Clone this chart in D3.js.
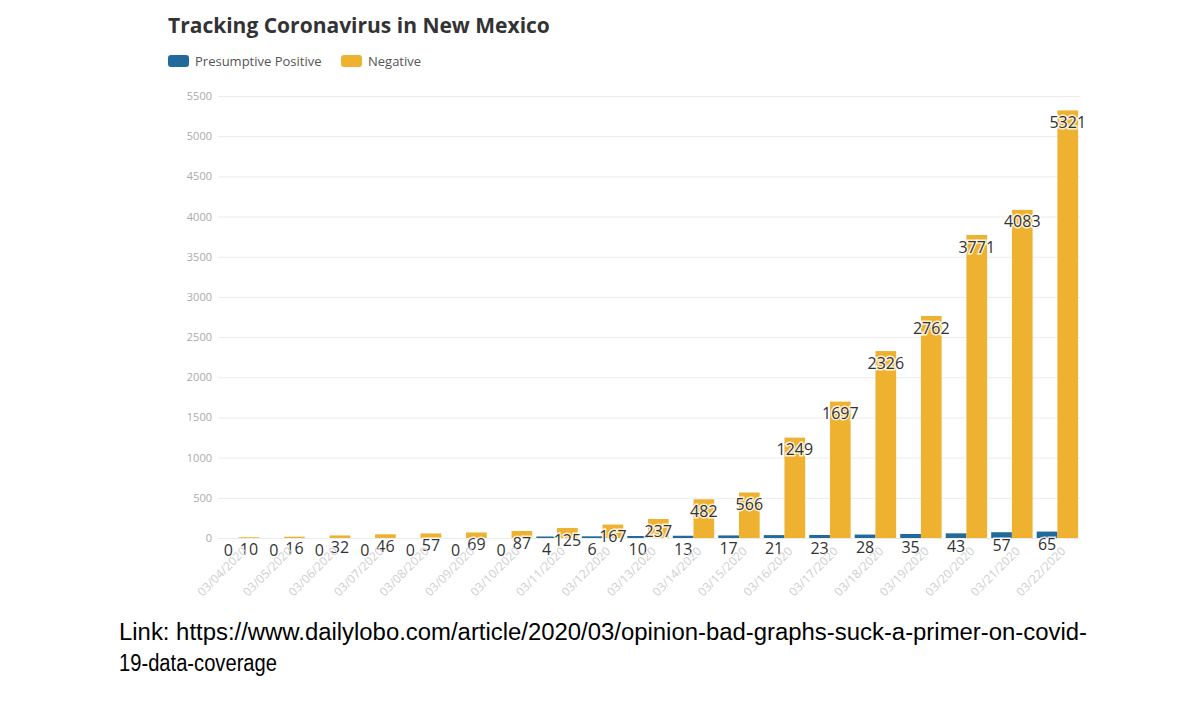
<!DOCTYPE html>
<html><head><meta charset="utf-8">
<script src="https://cdn.jsdelivr.net/npm/d3@7"></script>
<style>body{margin:0;background:#fff;} svg{display:block;}</style>
</head><body>
<svg id="c" width="1200" height="701"></svg>
<script>
const dates = ["03/04/2020","03/05/2020","03/06/2020","03/07/2020","03/08/2020","03/09/2020","03/10/2020","03/11/2020","03/12/2020","03/13/2020","03/14/2020","03/15/2020","03/16/2020","03/17/2020","03/18/2020","03/19/2020","03/20/2020","03/21/2020","03/22/2020"];
const positive = [0,0,0,0,0,0,0,4,6,10,13,17,21,23,28,35,43,57,65];
const negative = [10,16,32,46,57,69,87,125,167,237,482,566,1249,1697,2326,2762,3771,4083,5321];
const seriesNames = ["Presumptive Positive","Negative"];
const seriesColors = ["#22699c","#efb230"];
const yTicks = [0,500,1000,1500,2000,2500,3000,3500,4000,4500,5000,5500];

const svg = d3.select("#c");
const x0 = d3.scaleBand().domain(dates).range([217,1079]).paddingInner(0.09).paddingOuter(0.02);
const x1 = d3.scaleBand().domain([0,1]).range([0,x0.bandwidth()]);
const y = d3.scaleLinear().domain([0,5500]).range([538,96]);

// title
svg.append("text").attr("x",168).attr("y",33).text("Tracking Coronavirus in New Mexico")
  .attr("font-family","Open Sans").attr("font-weight","bold").attr("font-size",21).attr("fill","#333");

// legend
const legX = [168,341];
seriesNames.forEach((n,i)=>{
  svg.append("rect").attr("x",legX[i]).attr("y",55).attr("width",21).attr("height",12).attr("rx",3).attr("fill",seriesColors[i]);
  svg.append("text").attr("x",legX[i]+27).attr("y",61).attr("dy","0.35em").text(n)
    .attr("font-family","Open Sans").attr("font-size",13).attr("fill","#555");
});

// grid + y axis
const yAxis = d3.axisLeft(y).tickValues(yTicks).tickFormat(d3.format("d")).tickSize(-(1080-218)).tickPadding(6);
const ga = svg.append("g").attr("transform","translate(218,0)").call(yAxis);
ga.select(".domain").remove();
ga.selectAll(".tick line").attr("stroke","#ececec");
ga.selectAll(".tick text").attr("font-family","Open Sans").attr("font-size",11).attr("fill","#aaa");

// bars
const groups = svg.append("g").selectAll("g").data(dates).join("g")
  .attr("transform",d=>`translate(${x0(d)},0)`);
const vals = [positive, negative];
groups.each(function(d,i){
  const g = d3.select(this);
  [0,1].forEach(s=>{
    const v = vals[s][i];
    if (v <= 0) return;
    const extra = (s===0 ? 1.2 : 0);
    g.append("rect").attr("x",x1(s)).attr("width",x1.bandwidth())
      .attr("y",y(v)-extra).attr("height",y(0)-y(v)+extra).attr("fill",seriesColors[s]);
  });
});
// labels
groups.each(function(d,i){
  const g = d3.select(this);
  [0,1].forEach(s=>{
    const v = vals[s][i];
    g.append("text").attr("x",x1(s)+x1.bandwidth()/2).attr("y",y(v)+12).attr("dy","0.35em")
      .attr("text-anchor","middle").text(v)
      .attr("font-family","Open Sans").attr("font-size",16).attr("fill","#333")
      .attr("stroke","#fff").attr("stroke-width",3).attr("stroke-opacity",0.8).attr("paint-order","stroke");
  });
});

// x axis labels
const xAxis = d3.axisBottom(x0).tickSize(0).tickPadding(0);
const gx = svg.append("g").attr("transform","translate(0,538)").call(xAxis);
gx.select(".domain").remove();
gx.selectAll(".tick text").attr("font-family","Open Sans").attr("font-size",12).attr("fill","#cfcfcf")
  .attr("text-anchor","end").attr("dy","0.35em")
  .attr("transform","translate(6,11) rotate(-45)");

// footer
const foot = ["Link: https://www.dailylobo.com/article/2020/03/opinion-bad-graphs-suck-a-primer-on-covid-","19-data-coverage"];
const footLen = [968,158];
foot.forEach((t,i)=>{
  svg.append("text").attr("x",119).attr("y",640+i*31).text(t)
    .attr("font-family","Liberation Sans Narrow, Liberation Sans").attr("font-size",23).attr("fill","#000")
    .attr("textLength",footLen[i]).attr("lengthAdjust","spacingAndGlyphs");
});
</script>
</body></html>
